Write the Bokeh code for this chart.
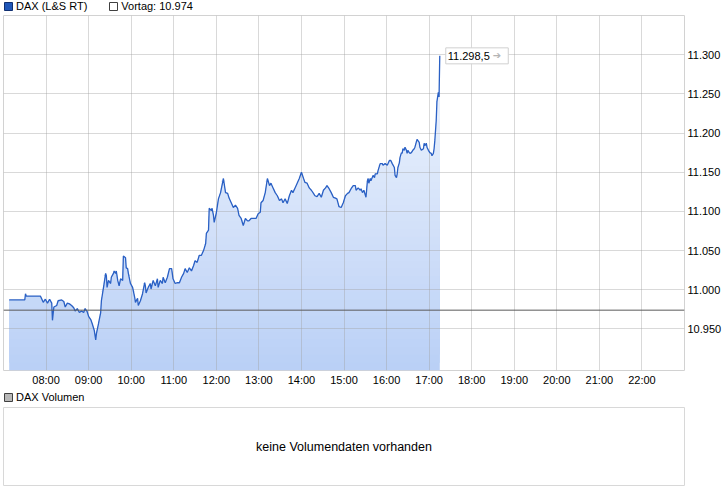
import numpy as np
import pandas as pd
from bokeh.plotting import figure
from bokeh.layouts import column
from bokeh.models import (Range1d, FixedTicker, DatetimeTickFormatter, CustomJSTickFormatter,
                          Span, Label, Legend, LegendItem)
from bokeh.embed import file_html
from bokeh.resources import INLINE

# ---------------- data ----------------
trade_date = "2015-11-05"
session_start = "07:00"
x_view = ("07:00", "23:00")
minutes_after_start = [
    8, 30, 31, 32, 52, 56, 59, 62, 65, 68,
    69, 71, 75, 77, 82, 85, 87, 90, 93, 96,
    99, 101, 104, 107, 110, 113, 115, 118, 120, 123,
    125, 128, 130, 131, 134, 135, 137, 138, 141, 144,
    145, 146, 148, 151, 152, 155, 156, 158, 159, 161,
    163, 165, 168, 169, 172, 173, 175, 176, 179, 182,
    185, 186, 189, 190, 193, 196, 199, 200, 201, 204,
    207, 208, 211, 214, 217, 218, 221, 224, 225, 228,
    231, 234, 237, 239, 242, 245, 248, 251, 254, 256,
    259, 262, 265, 268, 270, 273, 276, 279, 282, 285,
    286, 289, 290, 293, 294, 296, 297, 300, 303, 306,
    310, 313, 316, 318, 321, 324, 327, 330, 332, 335,
    338, 341, 344, 346, 349, 352, 356, 359, 362, 363,
    366, 369, 372, 375, 377, 380, 383, 386, 389, 392,
    394, 397, 400, 403, 406, 408, 411, 414, 417, 420,
    423, 425, 428, 431, 434, 437, 439, 442, 445, 448,
    451, 454, 456, 459, 462, 465, 468, 470, 473, 476,
    479, 482, 485, 487, 490, 493, 496, 497, 500, 503,
    504, 506, 508, 511, 513, 514, 515, 517, 518, 521,
    523, 524, 527, 528, 531, 534, 535, 538, 541, 544,
    546, 548, 551, 552, 554, 555, 556, 558, 559, 561,
    562, 563, 565, 566, 568, 569, 570, 572, 573, 575,
    577, 579, 580, 583, 586, 587, 589, 592, 593, 594,
    596, 597, 599, 601, 603, 604, 606, 607, 608, 610,
    611, 613, 614, 615,
]
dax_values = [
    10987, 10987, 10995, 10992, 10992, 10984, 10988, 10983, 10988, 10983,
    10961, 10978, 10980, 10986, 10987, 10985, 10978, 10983, 10982, 10980,
    10977, 10973, 10976, 10971, 10973, 10971, 10976, 10972, 10966, 10962,
    10957, 10948, 10936, 10944, 10957, 10962, 10971, 10986, 11003, 11021,
    11018, 11003, 11012, 11008, 11016, 11021, 11024, 11021, 11024, 11012,
    11005, 11014, 11012, 11043, 11041, 11028, 11027, 11021, 11008, 11003,
    10990, 10984, 10989, 10980, 10986, 10995, 11009, 11005, 10996, 11003,
    11008, 11001, 11012, 11005, 11014, 11003, 11012, 11008, 11016, 11009,
    11016, 11027, 11027, 11014, 11008, 11009, 11009, 11016, 11021, 11027,
    11022, 11028, 11024, 11031, 11037, 11035, 11044, 11044, 11050, 11059,
    11072, 11076, 11104, 11101, 11104, 11095, 11086, 11098, 11116, 11124,
    11142, 11124, 11123, 11117, 11111, 11105, 11108, 11104, 11095, 11091,
    11082, 11091, 11088, 11088, 11091, 11091, 11091, 11097, 11099, 11111,
    11114, 11124, 11142, 11133, 11136, 11130, 11124, 11120, 11114, 11116,
    11111, 11116, 11110, 11120, 11127, 11124, 11130, 11136, 11142, 11150,
    11142, 11137, 11136, 11130, 11127, 11123, 11120, 11119, 11123, 11118,
    11127, 11130, 11133, 11129, 11124, 11118, 11117, 11116, 11106, 11105,
    11111, 11120, 11123, 11124, 11129, 11133, 11133, 11127, 11130, 11127,
    11129, 11124, 11127, 11118, 11139, 11142, 11136, 11142, 11139, 11146,
    11143, 11148, 11148, 11152, 11161, 11161, 11159, 11161, 11159, 11165,
    11165, 11161, 11156, 11146, 11143, 11148, 11156, 11162, 11169, 11175,
    11174, 11180, 11178, 11182, 11178, 11174, 11178, 11175, 11174, 11175,
    11178, 11180, 11182, 11192, 11188, 11182, 11178, 11180, 11187, 11184,
    11187, 11182, 11178, 11175, 11174, 11171, 11174, 11180, 11190, 11216,
    11240, 11252, 11246, 11298.5,
]
prev_close = 10974
y_ticks = [10950, 11000, 11050, 11100, 11150, 11200, 11250, 11300]
y_view = (10897, 11350)
x_tick_labels = ["08:00", "09:00", "10:00", "11:00", "12:00", "13:00", "14:00", "15:00",
                 "16:00", "17:00", "18:00", "19:00", "20:00", "21:00", "22:00"]
series_name = "DAX (L&S RT)"
prev_name = "Vortag"
volume_name = "DAX Volumen"
volume_note = "keine Volumendaten vorhanden"

# ---------------- helpers ----------------
FONT = "Liberation Sans"
W = 726
LB = 3   # left border
RB = 42  # right border (axis labels)
NAN = float("nan")


def de_int(v):
    return f"{v:,.0f}".replace(",", ".")


def de_dec(v):
    return f"{v:,.1f}".replace(",", "X").replace(".", ",").replace("X", ".")


def ts(hhmm):
    return pd.Timestamp(f"{trade_date} {hhmm}")


def ms(t):
    return t.value / 1e6


def legend_strip(height, entries):
    """Small figure that only holds a horizontal legend (hidden proxy glyphs)."""
    f = figure(width=W, height=height, x_range=Range1d(0, 1), y_range=Range1d(0, 1),
               x_axis_type=None, y_axis_type=None, toolbar_location=None, output_backend="svg",
               min_border_left=LB - 1, min_border_right=RB, min_border_top=0, min_border_bottom=0,
               outline_line_color=None, background_fill_color="white",
               border_fill_color="white")
    items = []
    for label, fill, line in entries:
        r = f.quad(left=[NAN], right=[NAN], top=[NAN], bottom=[NAN],
                   fill_color=fill, line_color=line)
        items.append(LegendItem(label=label, renderers=[r]))
    leg = Legend(items=items, orientation="horizontal", location="top_left",
                 border_line_color=None, background_fill_alpha=0,
                 padding=0, margin=0, spacing=21, label_standoff=3,
                 glyph_width=10, glyph_height=10, label_height=11,
                 label_text_font=FONT, label_text_font_size="11px",
                 label_text_color="#000000")
    f.add_layout(leg)
    return f


base = ts(session_start)
times = base + pd.to_timedelta(minutes_after_start, unit="m")
vals = np.array(dax_values, dtype=float)
x_ticks_ms = [ms(ts(h)) for h in x_tick_labels]

# ---------------- header ----------------
head = legend_strip(14, [(series_name, "#1f56b8", "#102f70"),
                         (f"{prev_name}: {de_int(prev_close)}", "white", "#404040")])

# ---------------- main chart ----------------
p = figure(width=W, height=377, x_axis_type="datetime", y_axis_location="right",
           x_range=Range1d(ts(x_view[0]), ts(x_view[1])), y_range=Range1d(*y_view),
           toolbar_location=None, output_backend="svg",
           min_border_left=LB, min_border_right=RB, min_border_top=1, min_border_bottom=21,
           outline_line_color="#d2d2d2", background_fill_color="white",
           border_fill_color="white")

# gradient area (stacked overlapping bands, bottom to top)
n_bands = 40
c_bottom = np.array([186, 208, 246])
c_top = np.array([240, 245, 253])
lows = np.linspace(y_view[0], vals.max(), n_bands + 1)[:-1]
for i, lo in enumerate(lows):
    f = i / (n_bands - 1)
    c = (c_bottom + (c_top - c_bottom) * f).round().astype(int)
    p.varea(x=times, y1=lo, y2=np.maximum(vals, lo),
            fill_color="#%02x%02x%02x" % tuple(c), level="image")

p.line(times, vals, line_color="#2a60c4", line_width=1.3)

p.add_layout(Span(location=prev_close, dimension="width", line_color="#5a5a5a", line_width=1))

# axes
p.xaxis.ticker = FixedTicker(ticks=x_ticks_ms)
p.xaxis.formatter = DatetimeTickFormatter(hours="%H:%M", hourmin="%H:%M", minutes="%H:%M",
                                          days="%H:%M")
p.yaxis.ticker = FixedTicker(ticks=y_ticks)
p.yaxis.formatter = CustomJSTickFormatter(
    code=r"return tick.toFixed(0).replace(/\B(?=(\d{3})+(?!\d))/g, '.');")
for ax in (p.xaxis[0], p.yaxis[0]):
    ax.axis_line_color = None
    ax.major_tick_line_color = None
    ax.minor_tick_line_color = None
    ax.major_tick_out = 0
    ax.major_tick_in = 0
    ax.major_label_text_font = FONT
    ax.major_label_text_font_size = "11px"
    ax.major_label_text_color = "#000000"
    ax.major_label_standoff = 3

p.grid.grid_line_color = "#a0a0a0"
p.grid.grid_line_alpha = 0.4

# last value box
last_t = ms(times[-1])
p.add_layout(Label(x=last_t, y=vals[-1], x_offset=6, text=de_dec(vals[-1]) + "\u2003\u2002",
                   text_baseline="middle", text_font=FONT, text_font_size="11px",
                   text_color="#000000", background_fill_color="white",
                   border_line_color="#d0d0d0", padding=2))
p.add_layout(Label(x=last_t, y=vals[-1], x_offset=53, text="\u2794",
                   text_baseline="middle", text_font="DejaVu Sans", text_font_size="10px",
                   text_color="#b4b4b4"))

# ---------------- volume panel ----------------
vhead = legend_strip(15, [(volume_name, "#b8b8b8", "#404040")])
pv = figure(width=W, height=80, x_range=Range1d(0, 1), y_range=Range1d(0, 1),
            x_axis_type=None, y_axis_type=None, toolbar_location=None, output_backend="svg",
            min_border_left=LB, min_border_right=RB, min_border_top=1, min_border_bottom=1,
            outline_line_color="#d8d8d8", background_fill_color="white",
            border_fill_color="white")
pv.add_layout(Label(x=0.5, y=0.5, text=volume_note, text_align="center", text_baseline="middle",
                    text_font=FONT, text_font_size="12.5px", text_color="#000000"))

layout = column(head, p, vhead, pv, spacing=0)
open("out.html", "w").write(file_html(layout, INLINE))
